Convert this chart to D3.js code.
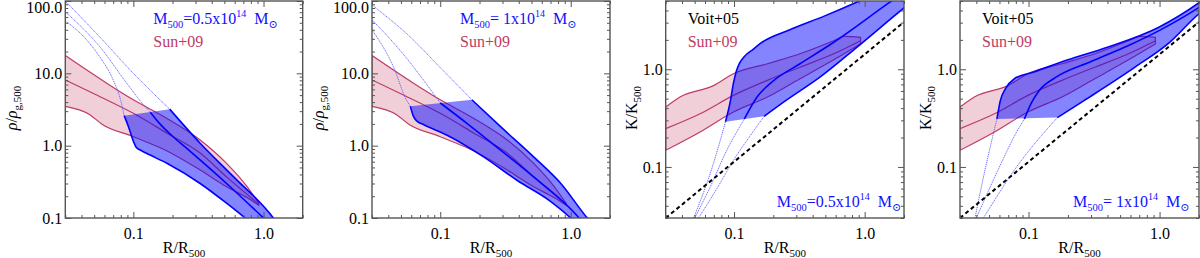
<!DOCTYPE html>
<html><head><meta charset="utf-8">
<script src="https://cdn.jsdelivr.net/npm/d3@7"></script>
<style>body{margin:0;background:#fff}svg{display:block}text{font-family:"Liberation Serif","DejaVu Serif",serif}</style>
</head><body><svg id="c" width="1200" height="258"></svg>
<script>
// ---------------- data ----------------
const X_DOMAIN = [0.03, 2.0];
const RHO_DOMAIN = [0.1, 100];
const K_DOMAIN = [0.03, 5];
const X_TICKS = [0.1, 1.0];
const RHO_TICKS = [0.1, 1, 10, 100];
const K_TICKS = [0.1, 1.0];

// Sun+09 density band
const sunRhoUpper = [[0.03,17.6],[0.0624,7.3],[0.1,4.3],[0.18,2.4],[0.326,1.2],[0.52,0.57],[0.75,0.27],[0.92,0.16]];
const sunRhoMid   = [[0.03,8.1],[0.049,5.3],[0.1,2.8],[0.18,1.5],[0.326,0.79],[0.52,0.37],[0.92,0.155]];
const sunRhoLower = [[0.03,3.5],[0.046,2.7],[0.057,2.0],[0.1,1.33],[0.18,0.85],[0.326,0.46],[0.52,0.27],[0.75,0.19],[0.92,0.15]];
// Sun+09 entropy band
const sunKUpper = [[0.03,0.41],[0.0386,0.52],[0.0697,0.68],[0.099,0.90],[0.18,1.14],[0.32,1.44],[0.58,1.96],[0.70,2.17],[0.93,2.12]];
const sunKMid   = [[0.03,0.247],[0.055,0.35],[0.099,0.54],[0.18,0.77],[0.32,1.05],[0.58,1.44],[0.93,1.96]];
const sunKLower = [[0.03,0.148],[0.055,0.228],[0.099,0.365],[0.18,0.52],[0.32,0.80],[0.58,1.25],[0.93,1.82]];
// Voit+05 baseline entropy
const voitK = [[0.03,0.030],[2.0,3.05]];

// Panel 1: density, M500 = 0.5e14
const p1UpperDot   = [[0.03,100],[0.055,32],[0.1,10],[0.19,3.2]];
const p1UpperSolid = [[0.19,3.2],[0.326,1.08],[0.59,0.37],[1.19,0.1],[1.3,0.08]];
const p1MidDot     = [[0.03,71],[0.055,23.5],[0.089,7.3],[0.115,4.0],[0.135,2.9]];
const p1MidSolid   = [[0.135,2.9],[0.16,2.0],[0.2,1.35],[0.26,0.9],[0.52,0.30],[1.0,0.1],[1.1,0.085]];
const p1LowDot     = [[0.03,53],[0.0438,29],[0.055,17],[0.07,8.1],[0.08,4.2],[0.085,2.6]];
const p1LowSolid   = [[0.085,2.6],[0.092,1.8],[0.1,1.15],[0.105,0.95],[0.113,0.87],[0.125,0.79],[0.181,0.57],[0.326,0.30],[0.52,0.16],[0.72,0.1],[0.8,0.085]];
// Panel 2: density, M500 = 1e14
const p2UpperDot   = [[0.03,88],[0.0587,32],[0.1,12],[0.175,4.3]];
const p2UpperSolid = [[0.175,4.3],[0.29,1.83],[0.52,0.70],[0.84,0.30],[1.34,0.1],[1.45,0.085]];
const p2MidDot     = [[0.03,55],[0.049,21],[0.1,3.9]];
const p2MidSolid   = [[0.1,3.9],[0.16,2.04],[0.29,0.87],[0.52,0.37],[1.16,0.1],[1.25,0.085]];
const p2LowDot     = [[0.03,40],[0.0437,12.4],[0.055,4.3],[0.059,3.5]];
const p2LowSolid   = [[0.059,3.5],[0.062,2.6],[0.066,2.2],[0.075,1.95],[0.119,1.33],[0.215,0.70],[0.39,0.33],[0.70,0.17],[1.0,0.1],[1.1,0.085]];
// Panel 3: entropy, M500 = 0.5e14
const p3UpperDot   = [[0.049,0.03],[0.0658,0.086],[0.0785,0.187],[0.086,0.29]];
const p3UpperSolid = [[0.086,0.29],[0.094,0.48],[0.099,0.72],[0.104,0.95],[0.11,1.15],[0.12,1.35],[0.14,1.6],[0.16,1.85],[0.27,2.55],[0.49,3.5],[0.91,5.0],[2.5,9.5]];
const p3MidDot     = [[0.05,0.03],[0.0658,0.0625],[0.088,0.148],[0.12,0.31]];
const p3MidSolid   = [[0.12,0.31],[0.15,0.52],[0.202,0.77],[0.32,1.14],[0.58,1.89],[1.55,4.83],[2.5,7.5]];
const p3LowDot     = [[0.0535,0.03],[0.075,0.062],[0.099,0.117],[0.13,0.2],[0.17,0.33]];
const p3LowSolid   = [[0.17,0.33],[0.25,0.48],[0.46,0.84],[0.88,1.7],[2.0,4.25],[2.5,5.4]];
// Panel 4: entropy, M500 = 1e14
const p4UpperDot   = [[0.039,0.03],[0.0467,0.095],[0.0574,0.31]];
const p4UpperSolid = [[0.0574,0.31],[0.061,0.48],[0.0666,0.63],[0.078,0.80],[0.11,0.94],[0.2,1.25],[0.4,1.68],[0.98,2.68],[2.0,4.8],[2.5,6.0]];
const p4MidDot     = [[0.04,0.03],[0.06,0.1],[0.08,0.22],[0.093,0.31]];
const p4MidSolid   = [[0.093,0.31],[0.105,0.45],[0.12,0.6],[0.16,0.82],[0.3,1.2],[0.58,1.75],[1.0,2.5],[2.0,4.3],[2.5,5.3]];
const p4LowDot     = [[0.0453,0.03],[0.082,0.102],[0.166,0.32]];
const p4LowSolid   = [[0.166,0.32],[0.267,0.48],[0.65,1.05],[1.2,1.9],[2.0,3.7],[2.5,4.6]];

// ---------------- layout ----------------
const TOP = 1, BOTTOM = 218;
const BLUE = "#0000ff", PINK = "#be3c64";
const svg = d3.select("#c");

const panels = [
  {left:65.3, right:302.7, kind:"rho", mass:"0.5", upDot:p1UpperDot, up:p1UpperSolid, midDot:p1MidDot, mid:p1MidSolid, lowDot:p1LowDot, low:p1LowSolid},
  {left:372,  right:610,   kind:"rho", mass:" 1",  upDot:p2UpperDot, up:p2UpperSolid, midDot:p2MidDot, mid:p2MidSolid, lowDot:p2LowDot, low:p2LowSolid},
  {left:665.7,right:904,   kind:"K",   mass:"0.5", upDot:p3UpperDot, up:p3UpperSolid, midDot:p3MidDot, mid:p3MidSolid, lowDot:p3LowDot, low:p3LowSolid},
  {left:960,  right:1199,  kind:"K",   mass:" 1",  upDot:p4UpperDot, up:p4UpperSolid, midDot:p4MidDot, mid:p4MidSolid, lowDot:p4LowDot, low:p4LowSolid}
];

function minorTicks(domain, majors){
  const out=[];
  for(let e=-3;e<=2;e++){const d=Math.pow(10,e);for(let m=1;m<=9;m++){const v=+(m*d).toPrecision(6);
    if(v>=domain[0]*0.999 && v<=domain[1]*1.001 && !majors.some(t=>Math.abs(t-v)/v<1e-6)) out.push(v);}}
  return out;
}

function massLabel(g, xpos, ypos, mass){
  const t=g.append("text").attr("x",xpos).attr("y",ypos).attr("fill","#1010ff").attr("font-size",16);
  t.append("tspan").text("M");
  t.append("tspan").attr("font-size",10.5).attr("dy",4).text("500");
  t.append("tspan").attr("dy",-4).text("="+mass+"x10");
  t.append("tspan").attr("font-size",10).attr("dy",-7).text("14");
  t.append("tspan").attr("dy",7).text("\u2002M");
  t.append("tspan").attr("font-size",11).attr("dy",4).text("\u2299");
}

panels.forEach((p,i)=>{
  const yDomain = p.kind==="rho"?RHO_DOMAIN:K_DOMAIN;
  const yTicks = p.kind==="rho"?RHO_TICKS:K_TICKS;
  const x = d3.scaleLog().domain(X_DOMAIN).range([p.left,p.right]);
  const y = d3.scaleLog().domain(yDomain).range([BOTTOM,TOP]);
  const g = svg.append("g");
  const cid = "clip"+i;
  svg.append("clipPath").attr("id",cid).append("rect").attr("x",p.left).attr("y",TOP).attr("width",p.right-p.left).attr("height",BOTTOM-TOP);
  const plot = g.append("g").attr("clip-path",`url(#${cid})`);
  const line = d3.line().x(d=>x(d[0])).y(d=>y(d[1])).curve(d3.curveMonotoneX);
  const band = (a,b)=> line(a) + "L" + line(b.slice().reverse()).slice(1) + "Z";

  // Sun+09 band
  const su = p.kind==="rho"?sunRhoUpper:sunKUpper, sm = p.kind==="rho"?sunRhoMid:sunKMid, sl = p.kind==="rho"?sunRhoLower:sunKLower;
  plot.append("path").attr("d",band(su,sl)).attr("fill","rgba(200,70,110,0.26)").attr("stroke",PINK).attr("stroke-width",1.2);
  plot.append("path").attr("d",line(sm)).attr("fill","none").attr("stroke",PINK).attr("stroke-width",1.2);

  // model band
  plot.append("path").attr("d",band(p.up,p.low)).attr("fill","rgba(10,10,255,0.5)").attr("stroke","none");
  [p.upDot,p.midDot,p.lowDot].forEach(d=>plot.append("path").attr("d",line(d)).attr("fill","none")
     .attr("stroke","#5a5aff").attr("stroke-width",0.9).attr("stroke-dasharray","1.2,0.8"));
  [p.up,p.mid,p.low].forEach(d=>plot.append("path").attr("d",line(d)).attr("fill","none")
     .attr("stroke",BLUE).attr("stroke-width",1.6));

  if(p.kind==="K"){
    plot.append("path").attr("d",d3.line().x(d=>x(d[0])).y(d=>y(d[1]))(voitK)).attr("fill","none")
      .attr("stroke","#000").attr("stroke-width",2).attr("stroke-dasharray","4,3");
  }

  // axes
  const axCol="#555";
  const xMinor = minorTicks(X_DOMAIN, X_TICKS), yMinor = minorTicks(yDomain, yTicks);
  const mk = (ax)=>ax.tickSizeOuter(0);
  g.append("g").attr("transform",`translate(0,${BOTTOM})`)
    .call(mk(d3.axisBottom(x).tickValues(X_TICKS).tickFormat(d3.format(".1f")).tickSizeInner(-6).tickPadding(10)));
  g.append("g").attr("transform",`translate(0,${BOTTOM})`).call(mk(d3.axisBottom(x).tickValues(xMinor).tickFormat("").tickSizeInner(-3)));
  g.append("g").attr("transform",`translate(0,${TOP})`).call(mk(d3.axisTop(x).tickValues(X_TICKS).tickFormat("").tickSizeInner(-6)));
  g.append("g").attr("transform",`translate(0,${TOP})`).call(mk(d3.axisTop(x).tickValues(xMinor).tickFormat("").tickSizeInner(-3)));
  const gl=g.append("g").attr("transform",`translate(${p.left},0)`)
    .call(mk(d3.axisLeft(y).tickValues(yTicks).tickFormat(d3.format(".1f")).tickSizeInner(-6).tickPadding(3)));
  g.append("g").attr("transform",`translate(${p.left},0)`).call(mk(d3.axisLeft(y).tickValues(yMinor).tickFormat("").tickSizeInner(-3)));
  g.append("g").attr("transform",`translate(${p.right},0)`).call(mk(d3.axisRight(y).tickValues(yTicks).tickFormat("").tickSizeInner(-6)));
  g.append("g").attr("transform",`translate(${p.right},0)`).call(mk(d3.axisRight(y).tickValues(yMinor).tickFormat("").tickSizeInner(-3)));
  g.selectAll(".domain").remove();
  g.selectAll(".tick line").attr("stroke",axCol).attr("stroke-width",1);
  g.selectAll(".tick text").attr("font-family","Liberation Serif, serif").attr("font-size",16).attr("fill","#000");
  gl.selectAll(".tick text").each(function(){const t=d3.select(this);const yy=y(+t.datum());if(yy<8)t.attr("y",7.5-yy);});
  g.append("rect").attr("x",p.left).attr("y",TOP).attr("width",p.right-p.left).attr("height",BOTTOM-TOP)
    .attr("fill","none").attr("stroke",axCol).attr("stroke-width",1.4);

  // axis titles
  const cx=(p.left+p.right)/2;
  const xt=g.append("text").attr("x",cx).attr("y",253).attr("text-anchor","middle").attr("font-size",16);
  xt.append("tspan").text("R/R");
  xt.append("tspan").attr("font-size",11).attr("dy",4).text("500");
  const ytx = p.kind==="rho"? p.left-48 : p.left-29;
  const yt=g.append("text").attr("transform",`translate(${ytx},108) rotate(-90)`).attr("text-anchor","middle").attr("font-size",16);
  if(p.kind==="rho"){
    yt.append("tspan").attr("font-style","italic").text("\u03c1");
    yt.append("tspan").text("/");
    yt.append("tspan").attr("font-style","italic").text("\u03c1");
    yt.append("tspan").attr("font-size",11).attr("dy",4).text("g,500");
  } else {
    yt.append("tspan").text("K/K");
    yt.append("tspan").attr("font-size",11).attr("dy",4).text("500");
  }

  // legends
  if(p.kind==="rho"){
    const lx = p.left + 88;
    massLabel(g, lx, 24, p.mass);
    g.append("text").attr("x",lx).attr("y",47).attr("font-size",16).attr("fill",PINK).text("Sun+09");
  } else {
    const lx = p.left + 22;
    g.append("text").attr("x",lx).attr("y",24).attr("font-size",16).attr("fill","#000").text("Voit+05");
    g.append("text").attr("x",lx).attr("y",47).attr("font-size",16).attr("fill",PINK).text("Sun+09");
    massLabel(g, p.left+(i===2?111:113), 207, p.mass);
  }
});
</script></body></html>
